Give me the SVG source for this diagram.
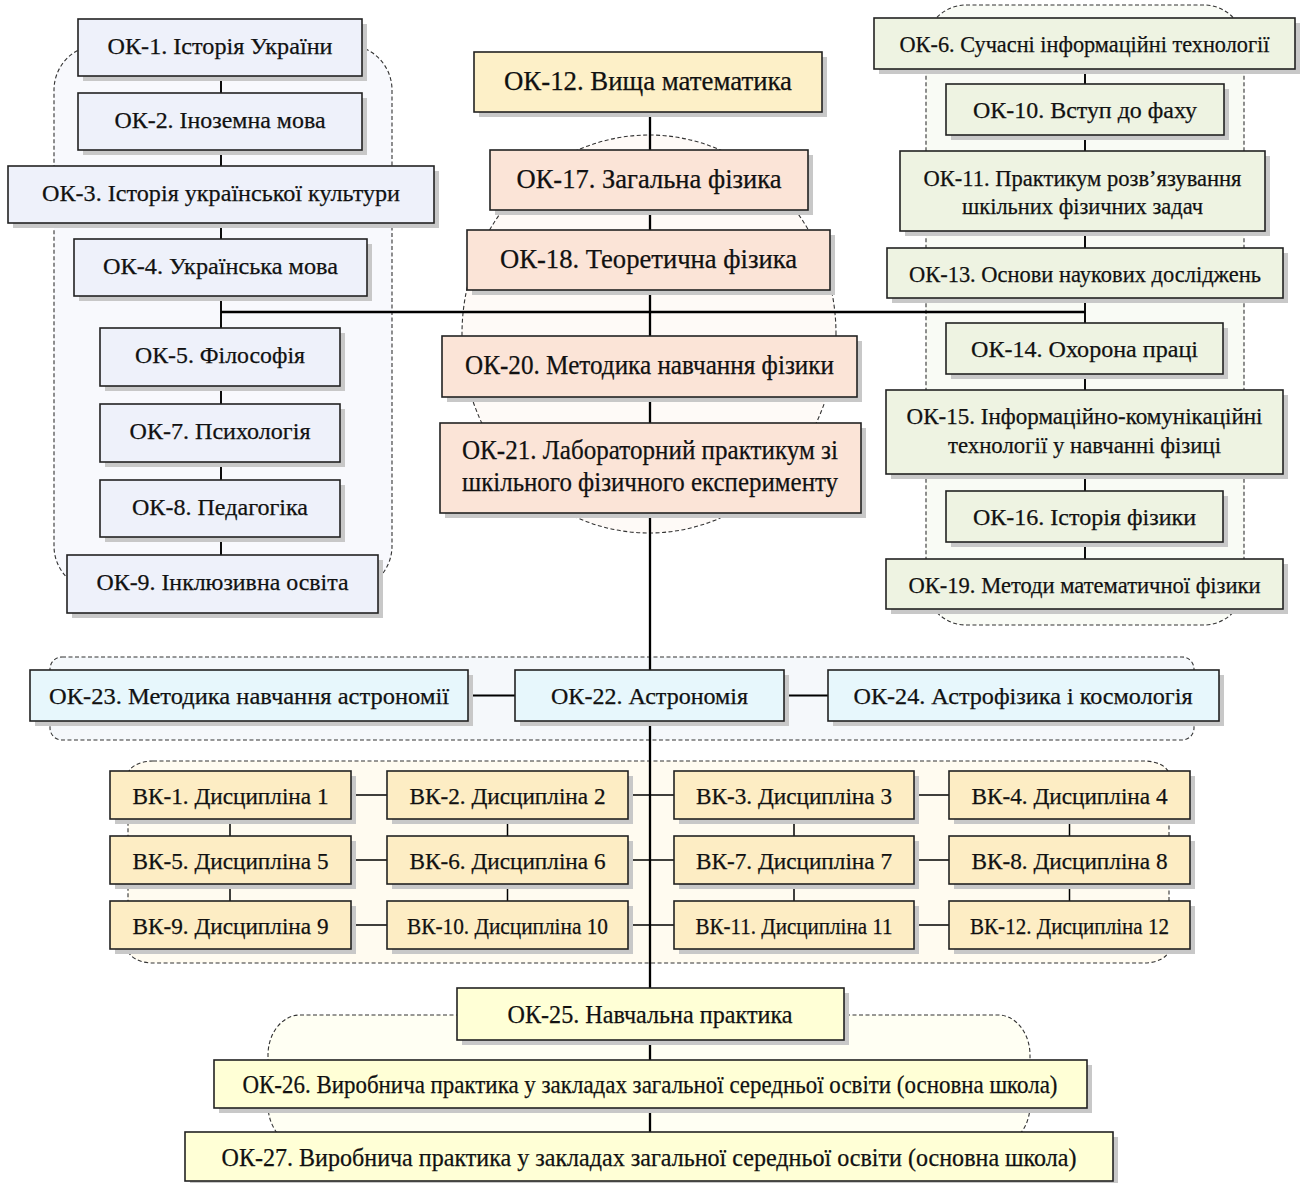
<svg xmlns="http://www.w3.org/2000/svg" width="1301" height="1183" viewBox="0 0 1301 1183">
<style>
.grp{stroke:#333;stroke-width:1.1;stroke-dasharray:4 2.5}
.sh{fill:#c8c8c8}
.box{stroke:#222;stroke-width:1.6}
.l{fill:#eef1fa}.y{fill:#fdf0c8}.c{fill:#fbe4d7}.g{fill:#eef3e2}.a{fill:#e7f7fc}.v{fill:#fdedc4}.b{fill:#ffffd6}
.ln{stroke:#000;fill:none}
.k{stroke-width:2.3}.m{stroke-width:1.9}.s{stroke-width:1.5}
text{font-family:"Liberation Serif","Times New Roman",serif;fill:#111;text-anchor:middle;stroke:#111;stroke-width:0.25}
.f23{font-size:24px}.f26{font-size:27px}.f25{font-size:26px}
</style>
<rect width="1301" height="1183" fill="#fff"/>
<g id="groups">
<rect class="grp" x="54" y="45" width="338" height="546" rx="45" fill="#f8f9fd"/>
<rect class="grp" x="926" y="5" width="318" height="620" rx="40" fill="#f9fbf5"/>
<ellipse class="grp" cx="649" cy="334" rx="187" ry="199" fill="#fefaf7"/>
<rect class="grp" x="50" y="657" width="1144" height="83" rx="12" fill="#f5f8fb"/>
<rect class="grp" x="128" y="761" width="1041" height="202" rx="25" ry="14" fill="#fffbf0"/>
<rect class="grp" x="268" y="1015" width="762" height="130" rx="32" ry="40" fill="#fffff3"/>
</g>
<g id="connectors">
<line class="ln k" x1="650" y1="112" x2="650" y2="1132"/>
<line class="ln k" x1="221" y1="312" x2="1085" y2="312"/>
<line class="ln m" x1="221" y1="76" x2="221" y2="555"/>
<line class="ln m" x1="1085" y1="69" x2="1085" y2="559"/>
<line class="ln m" x1="468" y1="695.5" x2="515" y2="695.5"/>
<line class="ln m" x1="784" y1="695.5" x2="828" y2="695.5"/>
<line class="ln s" x1="351" y1="795" x2="949" y2="795"/>
<line class="ln s" x1="351" y1="860" x2="949" y2="860"/>
<line class="ln s" x1="351" y1="925" x2="949" y2="925"/>
<line class="ln s" x1="230" y1="819" x2="230" y2="901"/>
<line class="ln s" x1="507.5" y1="819" x2="507.5" y2="901"/>
<line class="ln s" x1="794" y1="819" x2="794" y2="901"/>
<line class="ln s" x1="1069.5" y1="819" x2="1069.5" y2="901"/>
</g>
<g id="ok1"><rect class="sh" x="83" y="24" width="284" height="57"/><rect class="box l" x="78" y="19" width="284" height="57"/><text class="f23" x="220" y="54" textLength="225" lengthAdjust="spacingAndGlyphs">ОК-1. Історія України</text></g>
<g id="ok2"><rect class="sh" x="83" y="98" width="284" height="57"/><rect class="box l" x="78" y="93" width="284" height="57"/><text class="f23" x="220" y="128" textLength="211" lengthAdjust="spacingAndGlyphs">ОК-2. Іноземна мова</text></g>
<g id="ok3"><rect class="sh" x="13" y="171" width="426" height="57"/><rect class="box l" x="8" y="166" width="426" height="57"/><text class="f23" x="221" y="201" textLength="358" lengthAdjust="spacingAndGlyphs">ОК-3. Історія української культури</text></g>
<g id="ok4"><rect class="sh" x="79" y="244" width="293" height="57"/><rect class="box l" x="74" y="239" width="293" height="57"/><text class="f23" x="220.5" y="274" textLength="235" lengthAdjust="spacingAndGlyphs">ОК-4. Українська мова</text></g>
<g id="ok5"><rect class="sh" x="105" y="333" width="240" height="58"/><rect class="box l" x="100" y="328" width="240" height="58"/><text class="f23" x="220" y="363" textLength="170" lengthAdjust="spacingAndGlyphs">ОК-5. Філософія</text></g>
<g id="ok7"><rect class="sh" x="105" y="409" width="240" height="58"/><rect class="box l" x="100" y="404" width="240" height="58"/><text class="f23" x="220" y="439" textLength="181" lengthAdjust="spacingAndGlyphs">ОК-7. Психологія</text></g>
<g id="ok8"><rect class="sh" x="105" y="485" width="240" height="57"/><rect class="box l" x="100" y="480" width="240" height="57"/><text class="f23" x="220" y="514.5" textLength="176" lengthAdjust="spacingAndGlyphs">ОК-8. Педагогіка</text></g>
<g id="ok9"><rect class="sh" x="72" y="560" width="311" height="58"/><rect class="box l" x="67" y="555" width="311" height="58"/><text class="f23" x="222.5" y="590" textLength="252" lengthAdjust="spacingAndGlyphs">ОК-9. Інклюзивна освіта</text></g>
<g id="ok12"><rect class="sh" x="479" y="57" width="348" height="60"/><rect class="box y" x="474" y="52" width="348" height="60"/><text class="f26" x="648" y="90" textLength="288" lengthAdjust="spacingAndGlyphs">ОК-12. Вища математика</text></g>
<g id="ok17"><rect class="sh" x="495" y="155" width="318" height="60"/><rect class="box c" x="490" y="150" width="318" height="60"/><text class="f26" x="649" y="188" textLength="265" lengthAdjust="spacingAndGlyphs">ОК-17. Загальна фізика</text></g>
<g id="ok18"><rect class="sh" x="472" y="235" width="363" height="60"/><rect class="box c" x="467" y="230" width="363" height="60"/><text class="f26" x="648.5" y="268" textLength="297" lengthAdjust="spacingAndGlyphs">ОК-18. Теоретична фізика</text></g>
<g id="ok20"><rect class="sh" x="447" y="341" width="415" height="61"/><rect class="box c" x="442" y="336" width="415" height="61"/><text class="f26" x="649.5" y="374" textLength="369" lengthAdjust="spacingAndGlyphs">ОК-20. Методика навчання фізики</text></g>
<g id="ok21"><rect class="sh" x="445" y="428" width="421" height="90"/><rect class="box c" x="440" y="423" width="421" height="90"/><text class="f26" x="650" y="459" textLength="376" lengthAdjust="spacingAndGlyphs">ОК-21. Лабораторний практикум зі</text><text class="f26" x="650" y="491" textLength="376" lengthAdjust="spacingAndGlyphs">шкільного фізичного експерименту</text></g>
<g id="ok6"><rect class="sh" x="879" y="23" width="421" height="51"/><rect class="box g" x="874" y="18" width="421" height="51"/><text class="f23" x="1084.5" y="51.5" textLength="370" lengthAdjust="spacingAndGlyphs">ОК-6. Сучасні інформаційні технології</text></g>
<g id="ok10"><rect class="sh" x="951" y="89" width="278" height="51"/><rect class="box g" x="946" y="84" width="278" height="51"/><text class="f23" x="1085" y="118" textLength="224" lengthAdjust="spacingAndGlyphs">ОК-10. Вступ до фаху</text></g>
<g id="ok11"><rect class="sh" x="905" y="156" width="365" height="80"/><rect class="box g" x="900" y="151" width="365" height="80"/><text class="f23" x="1082.5" y="185.5" textLength="318" lengthAdjust="spacingAndGlyphs">ОК-11. Практикум розв’язування</text><text class="f23" x="1082.5" y="213.5" textLength="241" lengthAdjust="spacingAndGlyphs">шкільних фізичних задач</text></g>
<g id="ok13"><rect class="sh" x="892" y="253" width="396" height="50"/><rect class="box g" x="887" y="248" width="396" height="50"/><text class="f23" x="1085" y="281.5" textLength="352" lengthAdjust="spacingAndGlyphs">ОК-13. Основи наукових досліджень</text></g>
<g id="ok14"><rect class="sh" x="951" y="328" width="277" height="51"/><rect class="box g" x="946" y="323" width="277" height="51"/><text class="f23" x="1084.5" y="357" textLength="227" lengthAdjust="spacingAndGlyphs">ОК-14. Охорона праці</text></g>
<g id="ok15"><rect class="sh" x="891" y="395" width="397" height="84"/><rect class="box g" x="886" y="390" width="397" height="84"/><text class="f23" x="1084.5" y="423.5" textLength="356" lengthAdjust="spacingAndGlyphs">ОК-15. Інформаційно-комунікаційні</text><text class="f23" x="1084.5" y="452.5" textLength="273" lengthAdjust="spacingAndGlyphs">технології у навчанні фізиці</text></g>
<g id="ok16"><rect class="sh" x="951" y="496" width="277" height="51"/><rect class="box g" x="946" y="491" width="277" height="51"/><text class="f23" x="1084.5" y="525" textLength="223" lengthAdjust="spacingAndGlyphs">ОК-16. Історія фізики</text></g>
<g id="ok19"><rect class="sh" x="891" y="564" width="397" height="50"/><rect class="box g" x="886" y="559" width="397" height="50"/><text class="f23" x="1084.5" y="592.5" textLength="352" lengthAdjust="spacingAndGlyphs">ОК-19. Методи математичної фізики</text></g>
<g id="ok23"><rect class="sh" x="35" y="675" width="438" height="51"/><rect class="box a" x="30" y="670" width="438" height="51"/><text class="f23" x="249" y="703.5" textLength="400" lengthAdjust="spacingAndGlyphs">ОК-23. Методика навчання астрономії</text></g>
<g id="ok22"><rect class="sh" x="520" y="675" width="269" height="51"/><rect class="box a" x="515" y="670" width="269" height="51"/><text class="f23" x="649.5" y="703.5" textLength="197" lengthAdjust="spacingAndGlyphs">ОК-22. Астрономія</text></g>
<g id="ok24"><rect class="sh" x="833" y="675" width="391" height="51"/><rect class="box a" x="828" y="670" width="391" height="51"/><text class="f23" x="1023" y="703.5" textLength="339" lengthAdjust="spacingAndGlyphs">ОК-24. Астрофізика і космологія</text></g>
<g id="vk1"><rect class="sh" x="115" y="776" width="241" height="48"/><rect class="box v" x="110" y="771" width="241" height="48"/><text class="f23" x="230.5" y="803.5" textLength="196" lengthAdjust="spacingAndGlyphs">ВК-1. Дисципліна 1</text></g>
<g id="vk2"><rect class="sh" x="392" y="776" width="241" height="48"/><rect class="box v" x="387" y="771" width="241" height="48"/><text class="f23" x="507.5" y="803.5" textLength="196" lengthAdjust="spacingAndGlyphs">ВК-2. Дисципліна 2</text></g>
<g id="vk3"><rect class="sh" x="679" y="776" width="240" height="48"/><rect class="box v" x="674" y="771" width="240" height="48"/><text class="f23" x="794" y="803.5" textLength="196" lengthAdjust="spacingAndGlyphs">ВК-3. Дисципліна 3</text></g>
<g id="vk4"><rect class="sh" x="954" y="776" width="241" height="48"/><rect class="box v" x="949" y="771" width="241" height="48"/><text class="f23" x="1069.5" y="803.5" textLength="196" lengthAdjust="spacingAndGlyphs">ВК-4. Дисципліна 4</text></g>
<g id="vk5"><rect class="sh" x="115" y="841" width="241" height="48"/><rect class="box v" x="110" y="836" width="241" height="48"/><text class="f23" x="230.5" y="868.5" textLength="196" lengthAdjust="spacingAndGlyphs">ВК-5. Дисципліна 5</text></g>
<g id="vk6"><rect class="sh" x="392" y="841" width="241" height="48"/><rect class="box v" x="387" y="836" width="241" height="48"/><text class="f23" x="507.5" y="868.5" textLength="196" lengthAdjust="spacingAndGlyphs">ВК-6. Дисципліна 6</text></g>
<g id="vk7"><rect class="sh" x="679" y="841" width="240" height="48"/><rect class="box v" x="674" y="836" width="240" height="48"/><text class="f23" x="794" y="868.5" textLength="196" lengthAdjust="spacingAndGlyphs">ВК-7. Дисципліна 7</text></g>
<g id="vk8"><rect class="sh" x="954" y="841" width="241" height="48"/><rect class="box v" x="949" y="836" width="241" height="48"/><text class="f23" x="1069.5" y="868.5" textLength="196" lengthAdjust="spacingAndGlyphs">ВК-8. Дисципліна 8</text></g>
<g id="vk9"><rect class="sh" x="115" y="906" width="241" height="48"/><rect class="box v" x="110" y="901" width="241" height="48"/><text class="f23" x="230.5" y="933.5" textLength="196" lengthAdjust="spacingAndGlyphs">ВК-9. Дисципліна 9</text></g>
<g id="vk10"><rect class="sh" x="392" y="906" width="241" height="48"/><rect class="box v" x="387" y="901" width="241" height="48"/><text class="f23" x="507.5" y="933.5" textLength="201" lengthAdjust="spacingAndGlyphs">ВК-10. Дисципліна 10</text></g>
<g id="vk11"><rect class="sh" x="679" y="906" width="240" height="48"/><rect class="box v" x="674" y="901" width="240" height="48"/><text class="f23" x="794" y="933.5" textLength="197" lengthAdjust="spacingAndGlyphs">ВК-11. Дисципліна 11</text></g>
<g id="vk12"><rect class="sh" x="954" y="906" width="241" height="48"/><rect class="box v" x="949" y="901" width="241" height="48"/><text class="f23" x="1069.5" y="933.5" textLength="199" lengthAdjust="spacingAndGlyphs">ВК-12. Дисципліна 12</text></g>
<g id="ok25"><rect class="sh" x="462" y="993" width="387" height="52"/><rect class="box b" x="457" y="988" width="387" height="52"/><text class="f25" x="650" y="1022.5" textLength="285" lengthAdjust="spacingAndGlyphs">ОК-25. Навчальна практика</text></g>
<g id="ok26"><rect class="sh" x="219" y="1065" width="873" height="48"/><rect class="box b" x="214" y="1060" width="873" height="48"/><text class="f25" x="650" y="1092.5" textLength="815" lengthAdjust="spacingAndGlyphs">ОК-26. Виробнича практика у закладах загальної середньої освіти (основна школа)</text></g>
<g id="ok27"><rect class="sh" x="190" y="1137" width="928" height="49"/><rect class="box b" x="185" y="1132" width="928" height="49"/><text class="f25" x="649" y="1165.5" textLength="855" lengthAdjust="spacingAndGlyphs">ОК-27. Виробнича практика у закладах загальної середньої освіти (основна школа)</text></g>
</svg>
